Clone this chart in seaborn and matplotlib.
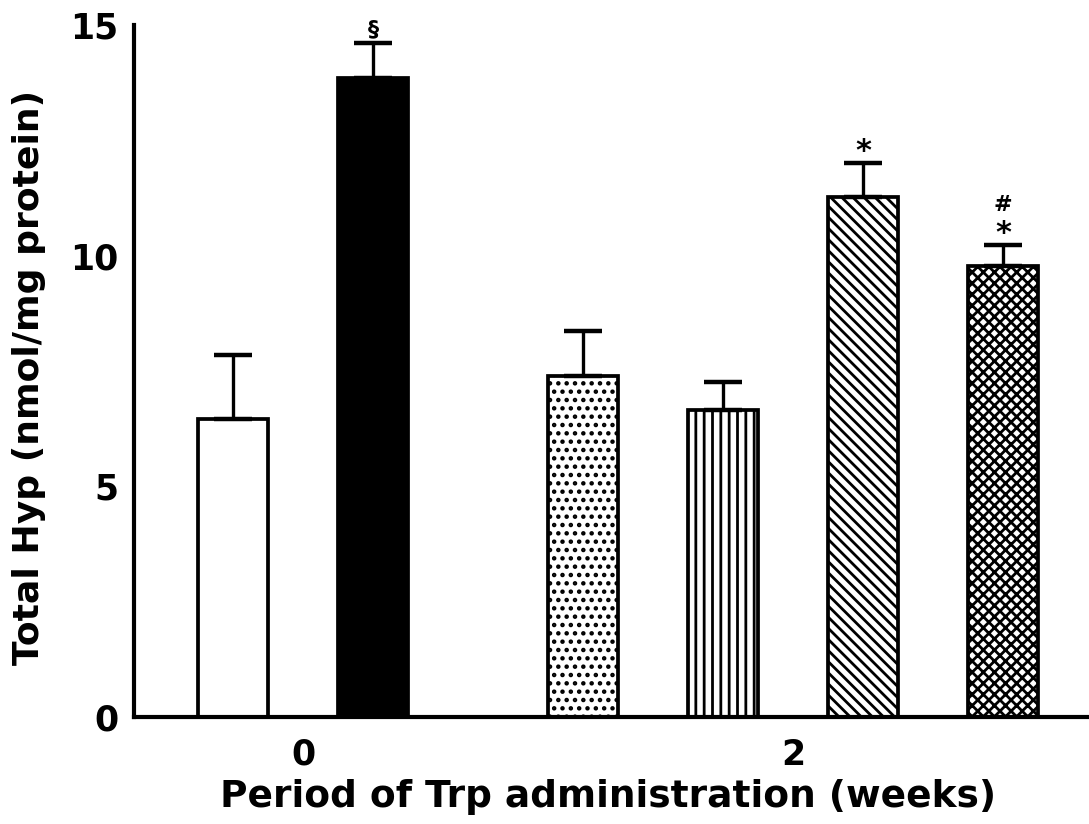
import matplotlib
matplotlib.use("Agg")
import matplotlib.pyplot as plt
import seaborn as sns
import pandas as pd

# values
weeks = ["0", "0", "2", "2", "2", "2"]
means = [6.45, 13.85, 7.40, 6.65, 11.28, 9.78]
sem = [1.40, 0.75, 0.97, 0.62, 0.73, 0.46]
marks = ["", "§", "", "", "*", "#\n*"]
y_ticks = [0, 5, 10, 15]

# layout: bars 1 apart inside a week group, groups 1.5 apart
bar_pos = [0, 1, 2.5, 3.5, 4.5, 5.5]
fills = ["white", "black", "white", "white", "white", "white"]
hatches = ["", "", "..", "||", "\\\\\\", "xxx"]

sns.set_style("white")
plt.rcParams["font.family"] = ["DejaVu Sans"]
plt.rcParams["font.weight"] = "bold"
plt.rcParams["text.color"] = "black"
plt.rcParams["axes.labelcolor"] = "black"
plt.rcParams["hatch.linewidth"] = 2.0
plt.rcParams["hatch.color"] = "black"

df = pd.DataFrame({"pos": bar_pos, "mean": means, "week": weeks})

fig = plt.figure(figsize=(10.89, 8.24), dpi=100)
ax = fig.add_axes([0.123, 0.1299, 0.877, 0.8398])

sns.barplot(
    data=df,
    x="pos",
    y="mean",
    native_scale=True,
    width=0.5,
    color="white",
    edgecolor="black",
    linewidth=2.7,
    errorbar=None,
    ax=ax
)

for patch, fc, h in zip(ax.patches, fills, hatches):
    patch.set_facecolor(fc)
    patch.set_hatch(h)

# one-sided error bars (upward only)
ax.errorbar(
    bar_pos, means,
    yerr=[[0] * len(sem), sem],
    fmt="none", ecolor="black",
    elinewidth=2.4, capsize=14, capthick=3.2,
    zorder=5
)

# significance marks, stacked from the error bar upward
mark_style = {"§": (16, 3), "*": (22, -2.5), "#": (16, 21)}
for x, m, e, mk in zip(bar_pos, means, sem, marks):
    if not mk:
        continue
    for sym in mk.split("\n"):
        size, dy = mark_style[sym]
        ax.annotate(
            sym, xy=(x, m + e), xytext=(0, dy), textcoords="offset points",
            ha="center", va="bottom", fontsize=size,
            fontweight="bold", annotation_clip=False
        )

# week tick labels under the middle of each group
week_names = list(dict.fromkeys(weeks))
tick_pos = [df.loc[df["week"] == w, "pos"].mean() for w in week_names]
ax.set_xticks(tick_pos)
ax.set_xticklabels(week_names)
ax.set_xlim(-0.707, 6.114)

ax.set_ylim(0, 15)
ax.set_yticks(y_ticks)
ax.set_yticklabels([str(t) for t in y_ticks])

ax.set_xlabel("Period of Trp administration (weeks)", fontsize=27, fontweight="bold")
ax.set_ylabel("Total Hyp (nmol/mg protein)", fontsize=26, fontweight="bold")
ax.xaxis.set_label_coords(0.496, -0.089)
ax.yaxis.set_label_coords(-0.092, 0.49)

for s in ["top", "right"]:
    ax.spines[s].set_visible(False)
ax.spines["left"].set_bounds(0, 15)
ax.spines["left"].set_linewidth(3)
ax.spines["bottom"].set_linewidth(3)
ax.spines["left"].set_color("black")
ax.spines["bottom"].set_color("black")

ax.tick_params(axis="y", direction="in", length=8, width=3, pad=11, labelsize=25, colors="black")
ax.tick_params(axis="x", length=0, pad=15, labelsize=25, colors="black")

plt.savefig("out.png", dpi=100)
plt.close(fig)
